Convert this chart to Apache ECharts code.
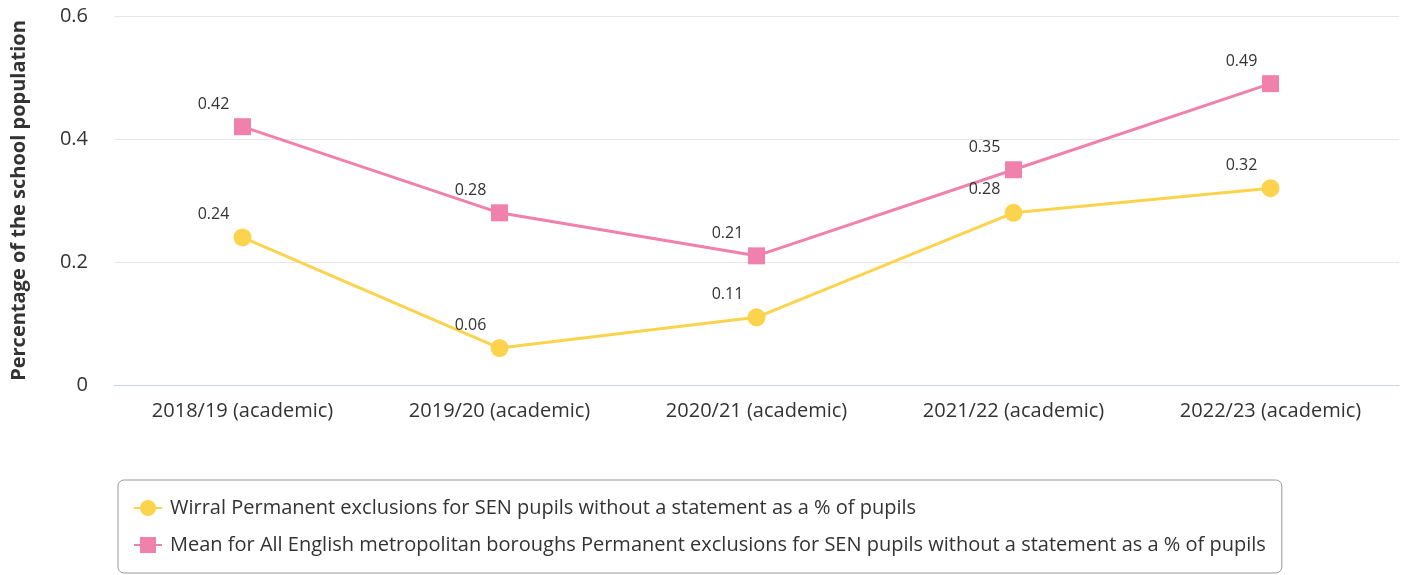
<!DOCTYPE html>
<html>
<head>
<meta charset="utf-8">
<script src="https://cdn.jsdelivr.net/npm/echarts@6/dist/echarts.min.js"></script>
<style>
  html, body { margin: 0; padding: 0; background: #fff; }
  #chart { width: 1407px; height: 575px; }
</style>
</head>
<body>
<div id="chart"></div>
<script>
// Academic years on the category axis
const years = ['2018/19 (academic)', '2019/20 (academic)', '2020/21 (academic)', '2021/22 (academic)', '2022/23 (academic)'];

// Permanent exclusions for SEN pupils without a statement, % of pupils
const wirralName = 'Wirral Permanent exclusions for SEN pupils without a statement as a % of pupils';
const wirralValues = [0.24, 0.06, 0.11, 0.28, 0.32];

const meanName = 'Mean for All English metropolitan boroughs Permanent exclusions for SEN pupils without a statement as a % of pupils';
const meanValues = [0.42, 0.28, 0.21, 0.35, 0.49];

const yTicks = [0, 0.2, 0.4, 0.6];

const FONT = '"Open Sans", "Noto Sans", sans-serif';
const YELLOW = '#fcd34d';
const PINK = '#f080ac';

const chart = echarts.init(document.getElementById('chart'), null, { renderer: 'canvas' });

const valueLabel = {
  show: true,
  position: 'top',
  distance: 6,
  offset: [-29, 0],
  color: '#333',
  fontFamily: FONT,
  fontSize: 16
};

chart.setOption({
  animation: false,
  textStyle: { fontFamily: FONT },
  grid: { left: 114, right: 8, top: 16, bottom: 190, containLabel: false, outerBoundsMode: 'none' },
  legend: {
    orient: 'vertical',
    left: 118,
    top: 480,
    width: 1163,
    padding: [18, 16, 18, 15],
    itemGap: 17,
    itemWidth: 28,
    itemHeight: 20,
    borderColor: '#999',
    borderWidth: 1,
    borderRadius: 6,
    textStyle: { color: '#333', fontSize: 20, fontFamily: FONT, padding: [0, 0, 0, 3] },
    data: [wirralName, meanName]
  },
  xAxis: {
    type: 'category',
    data: years,
    boundaryGap: true,
    axisLine: { lineStyle: { color: '#ccd6eb', width: 1 } },
    axisTick: { show: false },
    axisLabel: { color: '#333', fontSize: 20, fontFamily: FONT, margin: 16 }
  },
  yAxis: {
    type: 'value',
    min: yTicks[0],
    max: yTicks[yTicks.length - 1],
    interval: 0.2,
    name: 'Percentage of the school population',
    nameLocation: 'middle',
    nameGap: 85,
    nameTextStyle: { color: '#333', fontSize: 20, fontWeight: 'bold', fontFamily: FONT },
    axisLine: { show: false },
    axisTick: { show: false },
    splitLine: { lineStyle: { color: '#e6e6e6', width: 1 } },
    axisLabel: {
      color: '#333', fontSize: 20, fontFamily: FONT, margin: 26,
      formatter: v => String(Math.round(v * 10) / 10)
    }
  },
  series: [
    {
      name: wirralName,
      type: 'line',
      data: wirralValues,
      symbol: 'circle',
      symbolSize: 18,
      lineStyle: { color: YELLOW, width: 3 },
      itemStyle: { color: YELLOW },
      label: valueLabel,
      z: 3
    },
    {
      name: meanName,
      type: 'line',
      data: meanValues,
      symbol: 'rect',
      symbolSize: 17,
      lineStyle: { color: PINK, width: 3 },
      itemStyle: { color: PINK },
      label: valueLabel,
      z: 2
    }
  ]
});
</script>
</body>
</html>
